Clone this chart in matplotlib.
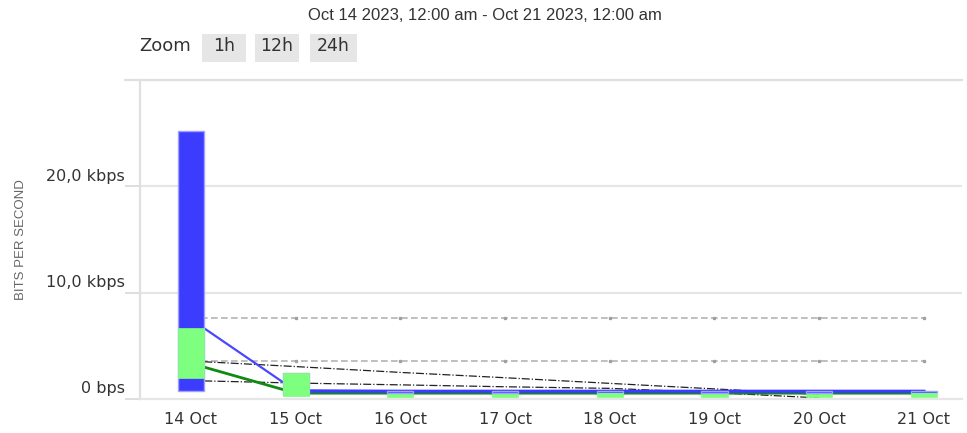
import matplotlib
matplotlib.use('Agg')
import matplotlib.pyplot as plt
import matplotlib.transforms as mtransforms
from matplotlib.patches import Rectangle

# data (kbps)
days = ['14 Oct', '15 Oct', '16 Oct', '17 Oct', '18 Oct', '19 Oct', '20 Oct', '21 Oct']
blue_low = [0.76, 0.35, 0.6, 0.6, 0.6, 0.6, 0.6, 0.6]
blue_high = [25.2, 2.4, 0.75, 0.75, 0.75, 0.75, 0.75, 0.75]
green_low = [2.0, 0.3, 0.15, 0.15, 0.15, 0.15, 0.15, 0.15]
green_high = [6.7, 2.46, 0.5, 0.45, 0.55, 0.45, 0.5, 0.55]
blue_line = [7.5, 0.76, 0.72, 0.72, 0.72, 0.72, 0.72, 0.72]
green_line = [3.35, 0.55, 0.55, 0.55, 0.55, 0.55, 0.55, 0.55]
blue_avg = [7.6] * 8
green_avg = [3.55] * 8
trend_upper = [3.57, 3.05, 2.5, 2.0, 1.47, 0.95, 0.43]
trend_lower = [1.73, 1.5, 1.33, 1.15, 1.0, 0.6, 0.1]

yticks = [0, 10, 20]
ytick_labels = ['0 bps', '10,0 kbps', '20,0 kbps']
zoom_buttons = ['1h', '12h', '24h']

xs = list(range(len(days)))

fig = plt.figure(figsize=(9.67, 4.33), dpi=100)
ax = fig.add_axes([140/967, 34/433, 822/967, 319/433])

# grid
for y in [10, 20, 30]:
    ax.axhline(y, color='#e6e6e6', lw=1.6, zorder=0)

# average lines and trend lines
ax.plot(xs, blue_avg, color='#b4b4b4', lw=1.2,
        ls=(0, (4, 2)), marker='s', ms=1.4, mec='#a0a0a0', mfc='#a0a0a0', zorder=1)
ax.plot(xs, green_avg, color='#b4b4b4', lw=1.2,
        ls=(0, (4, 2)), marker='s', ms=1.4, mec='#a0a0a0', mfc='#a0a0a0', zorder=1)
ax.plot(xs[:-1], trend_upper, color='#222222', lw=0.9, ls='-.', zorder=1)
ax.plot(xs[:-1], trend_lower, color='#222222', lw=0.9, ls='-.', zorder=1)

# series lines
ax.plot(xs, green_line, color='#108a10', lw=2, zorder=2)
ax.plot(xs, blue_line, color='#4848ff', lw=1.6, zorder=2)
ax.plot(xs[1:], blue_line[1:], color='#3c3cff', lw=2.4, zorder=2)

# ranges
w = 0.25
ax.bar(xs, [h - l for h, l in zip(blue_high, blue_low)], bottom=blue_low, width=w,
       color='#3c3cff', edgecolor='#a0a0ff', lw=1, zorder=3)
ax.bar(xs, [h - l for h, l in zip(green_high, green_low)], bottom=green_low, width=w,
       color='#7fff7f', edgecolor='#7fff7f', lw=0.5, zorder=4)

ax.set_xlim(-0.487, 7.364)
ax.set_ylim(0, 30)

ax.set_xticks(xs)
ax.set_xticklabels(days, fontsize=11.5, color='#333333')
ax.tick_params(axis='x', length=0, pad=9)

ax.set_yticks(yticks)
ax.set_yticklabels(ytick_labels, fontsize=11.5, color='#333333')
ax.tick_params(axis='y', length=11, color='#d8d8d8', width=1.2, pad=0)
off = mtransforms.ScaledTranslation(0, 2/72, fig.dpi_scale_trans)
for lab in ax.get_yticklabels():
    lab.set_verticalalignment('bottom')
    lab.set_transform(lab.get_transform() + off)

for s in ['top', 'right']:
    ax.spines[s].set_visible(False)
ax.spines['left'].set_color('#e0e0e0')
ax.spines['left'].set_linewidth(1.6)
ax.spines['bottom'].set_color('#e6e6e6')
ax.spines['bottom'].set_linewidth(1.6)

ax.set_ylabel('BITS PER SECOND', fontsize=9.5, color='#666666', family='Liberation Sans')
ax.yaxis.set_label_coords(-0.138, 0.5)

# top line
fig.add_artist(plt.Line2D([125/967, 962/967], [353/433, 353/433], color='#e0e0e0', lw=1.6))

fig.text(485/967, 1 - 15/433, 'Oct 14 2023, 12:00 am - Oct 21 2023, 12:00 am',
         ha='center', va='center', fontsize=12, color='#333333', family='Liberation Sans')

fig.text(139/967, 1 - 46/433, 'Zoom', ha='left', va='center', fontsize=13, color='#333333')
for label, (x0, x1) in zip(zoom_buttons, [(202, 246), (255, 299), (310, 357)]):
    fig.add_artist(Rectangle((x0/967, 1 - 62/433), (x1 - x0)/967, 28/433,
                             transform=fig.transFigure, fc='#e6e6e6', ec='none'))
    fig.text((x0 + x1) / 2 / 967, 1 - 46/433, label, ha='center', va='center', fontsize=12.5,
             color='#333333')

fig.savefig('out.png', dpi=100)
